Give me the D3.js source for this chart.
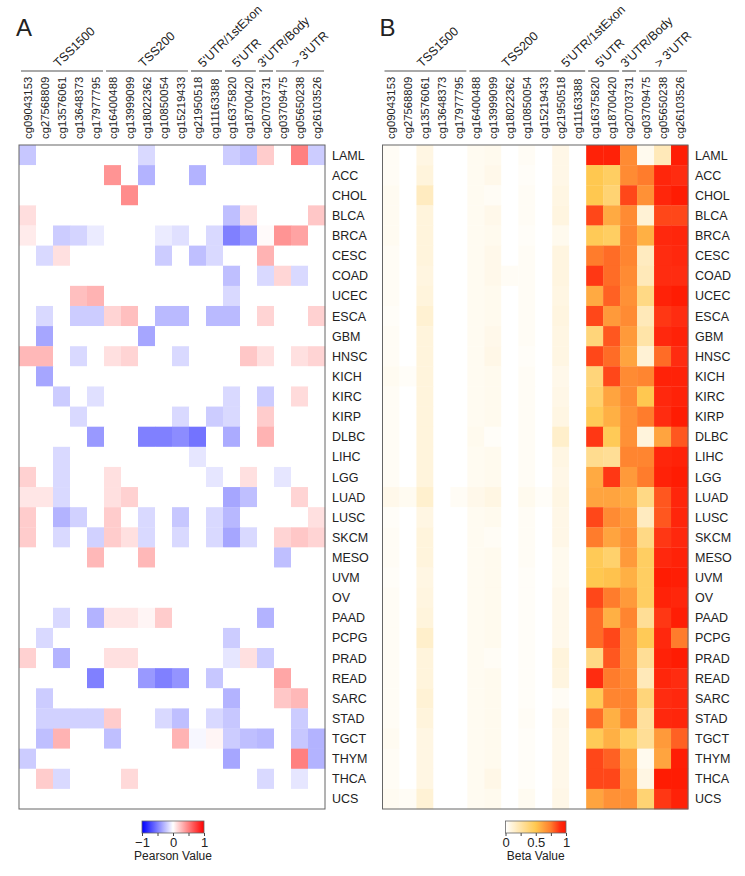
<!DOCTYPE html>
<html>
<head>
<meta charset="utf-8">
<script src="https://cdn.jsdelivr.net/npm/d3@7"></script>
<style>
  body { margin: 0; background: #fff; }
  text { font-family: "Liberation Sans", Arial, sans-serif; fill: #222; }
</style>
</head>
<body>
<script>
"use strict";

// sondes (colonnes)
var probes = ["cg09043153","cg27568809","cg13576061","cg13648373","cg17977795",
  "cg16400488","cg13999099","cg18022362","cg10850054","cg15219433",
  "cg21950518","cg11163388","cg16375820","cg18700420","cg20703731",
  "cg03709475","cg05650238","cg26103526"];

// regions (groupes de colonnes)
var groups = [
  {name: "TSS1500", from: 0, to: 4},
  {name: "TSS200", from: 5, to: 9},
  {name: "5'UTR/1stExon", from: 10, to: 11},
  {name: "5'UTR", from: 12, to: 13},
  {name: "3'UTR/Body", from: 14, to: 14},
  {name: "> 3'UTR", from: 15, to: 17}
];

// types de cancer (lignes)
var cancers = ["LAML","ACC","CHOL","BLCA","BRCA","CESC","COAD","UCEC","ESCA","GBM",
  "HNSC","KICH","KIRC","KIRP","DLBC","LIHC","LGG","LUAD","LUSC","SKCM","MESO",
  "UVM","OV","PAAD","PCPG","PRAD","READ","SARC","STAD","TGCT","THYM","THCA","UCS"];

// correlation de Pearson (panneau A)
var pearson = [
  [-0.22,0,0,0,0,0,0,-0.15,0,0,0,0,-0.2,-0.25,0.2,0,0.5,-0.2],
  [0,0,0,0,0,0.42,0,-0.3,0,0,-0.3,0,0,0,0,0,0,0],
  [0,0,0,0,0,0,0.45,0,0,0,0,0,0,0,0,0,0,0],
  [0.13,0,0,0,0,0,0,0,0,0,0,0,-0.25,0.12,0,0,0,0.22],
  [0.08,0,-0.2,-0.17,-0.08,0,0,0,-0.08,-0.12,0,-0.15,-0.5,-0.4,0.02,0.42,0.36,0],
  [0,-0.15,0.12,0,0,0,0,0,-0.2,0,-0.25,-0.15,0,0,0.3,0,0,0],
  [0,0,0,0,0,0,0,0,0,0,0,0,-0.25,0,-0.15,0.16,-0.15,0],
  [0,0,0,0.25,0.3,0,0,0,0,0,0,0,-0.15,0,0,0,0,0],
  [0,-0.15,0,-0.2,-0.2,0.17,0.25,0,-0.27,-0.27,0,-0.27,-0.27,0,0.17,0,0,0.18],
  [0,-0.35,0,0,0,0,0,-0.35,0,0,0,0,0,0,0,0,0,0],
  [0.28,0.28,0,-0.15,0,0.12,0.17,0,0,-0.15,0,0,0,0.22,0.12,0,0.12,0.17],
  [0,-0.35,0,0,0,0,0,0,0,0,0,0,0,0,0,0,0,0],
  [0,0,-0.2,0,-0.12,0,0,0,0,0,0,0,-0.15,0,-0.2,0,0.14,0],
  [0,0,0,-0.15,0,0,0,0,0,-0.15,0,-0.2,-0.15,0,0.2,0,0,0],
  [0,0,0,0,-0.4,0,0,-0.5,-0.5,-0.45,-0.55,0,-0.33,0,0.3,0,0,0],
  [0,0,-0.15,0,0,0,0,0,0,0,-0.1,0,0,0,0,0,0,0],
  [0.18,0,-0.15,0,0,0.12,0,0,0,0,0,-0.1,0,0.12,0,-0.1,0,0],
  [0.1,0.1,-0.15,0,0,0.12,0.18,0,0,0,0,0,-0.35,-0.25,0,0,0.17,0],
  [0.2,0,-0.3,-0.18,0,0.2,0,-0.15,0,-0.22,0,-0.15,-0.28,0,0,0,0,0.12],
  [0.2,0,-0.15,0,-0.18,0.2,0.12,-0.15,0,-0.15,0,-0.15,-0.35,-0.15,0,0.17,0.22,0.17],
  [0,0,0,0,0.28,0,0,0.28,0,0,0,0,0,0,0,-0.25,0,0],
  [0,0,0,0,0,0,0,0,0,0,0,0,0,0,0,0,0,0],
  [0,0,0,0,0,0,0,0,0,0,0,0,0,0,0,0,0,0],
  [0,0,-0.15,0,-0.3,0.1,0.1,0.04,0.2,0,0,0,0,0,-0.3,0,0,0],
  [0,-0.15,0,0,0,0,0,0,0,0,0,0,-0.2,0,0,0,0,0],
  [0.18,0,-0.3,0,0,0.12,0.12,0,0,0,0,0,-0.1,0.12,-0.2,0,0,0],
  [0,0,0,0,-0.5,0,0,-0.4,-0.5,-0.42,0,-0.22,0,0,0,0.35,0,0],
  [0,-0.2,0,0,0,0,0,0,0,0,0,0,-0.3,0,0,0.22,0.28,0],
  [0,-0.18,-0.18,-0.18,-0.18,0.2,0,0,-0.15,-0.25,0,-0.15,-0.22,0,0,0,-0.2,0],
  [0,-0.25,0.3,0,0,-0.25,0,0,0,0.3,-0.03,0.04,-0.2,-0.25,-0.28,0,-0.22,-0.3],
  [-0.2,0,0,0,0,0,0,0,0,0,0,0,-0.35,0,0,0,0.5,-0.3],
  [0,0.2,-0.15,0,0,0,0.15,0,0,0,0,0,0,0,-0.15,0,-0.1,0],
  [0,0,0,0,0,0,0,0,0,0,0,0,0,0,0,0,0,0]
];

// valeurs beta de methylation (panneau B)
var beta = [
  [0.03,0,0.08,0,0,0.04,0.05,0,0.03,0,0.07,0, 0.95,0.95,0.7,0.05,0.2,0.97],
  [0.03,0,0.1,0,0,0.04,0.06,0,0.02,0,0.07,0, 0.5,0.45,0.7,0.75,0.93,0.9],
  [0.04,0,0.18,0,0,0.04,0.03,0,0.03,0,0.08,0, 0.5,0.4,0.85,0.68,0.93,0.98],
  [0.04,0,0.1,0,0,0.04,0.06,0,0.03,0,0.09,0, 0.85,0.6,0.7,0.12,0.85,0.85],
  [0.04,0,0.1,0,0,0.04,0.05,0,0.02,0,0.05,0, 0.48,0.45,0.72,0.58,0.92,0.93],
  [0.03,0,0.1,0,0,0.04,0.06,0,0.03,0,0.09,0, 0.75,0.78,0.72,0.18,0.9,0.92],
  [0.03,0,0.09,0,0,0.04,0.06,0.03,0.03,0,0.09,0, 0.88,0.78,0.7,0.2,0.9,0.9],
  [0.03,0,0.1,0,0,0.04,0.05,0,0.03,0,0.08,0, 0.6,0.8,0.68,0.35,0.95,0.98],
  [0.02,0,0.13,0,0,0.04,0.05,0,0.03,0,0.09,0, 0.85,0.65,0.7,0.2,0.88,0.9],
  [0.03,0,0.1,0,0,0.04,0.06,0,0.03,0,0.08,0, 0.38,0.82,0.65,0.25,0.92,0.95],
  [0.03,0,0.1,0,0,0.04,0.07,0,0.02,0,0.08,0, 0.85,0.78,0.62,0.12,0.78,0.9],
  [0.04,0.02,0.1,0,0,0.04,0.05,0,0.03,0,0.06,0, 0.38,0.85,0.7,0.72,0.95,0.95],
  [0.03,0,0.1,0,0,0.04,0.05,0,0.03,0,0.07,0, 0.42,0.62,0.7,0.5,0.92,0.95],
  [0.03,0,0.1,0,0,0.04,0.05,0,0.03,0,0.08,0, 0.48,0.58,0.68,0.75,0.9,0.98],
  [0.03,0,0.1,0,0,0.05,0.02,0,0.03,0,0.15,0, 0.88,0.48,0.68,0.1,0.62,0.82],
  [0.03,0,0.1,0,0,0.04,0.05,0,0.03,0,0.08,0, 0.32,0.3,0.72,0.72,0.93,0.95],
  [0.03,0,0.1,0,0,0.04,0.05,0,0.03,0,0.07,0, 0.6,0.88,0.65,0.75,0.95,0.98],
  [0.06,0.04,0.14,0,0.03,0.06,0.08,0,0.05,0.02,0.08,0, 0.62,0.62,0.6,0.35,0.82,0.93],
  [0.02,0,0.08,0,0,0.04,0.05,0,0.03,0,0.07,0, 0.85,0.7,0.65,0.18,0.82,0.93],
  [0.03,0,0.1,0,0,0.04,0.03,0,0.03,0,0.07,0, 0.75,0.62,0.68,0.35,0.88,0.92],
  [0.03,0,0.1,0,0,0.04,0.05,0,0.03,0,0.05,0, 0.48,0.42,0.65,0.45,0.92,0.95],
  [0.02,0,0.08,0,0,0.04,0.05,0,0.02,0,0.05,0, 0.5,0.52,0.58,0.45,0.98,0.97],
  [0.03,0,0.09,0,0,0.04,0.05,0,0.02,0,0.06,0, 0.85,0.75,0.65,0.45,0.95,0.93],
  [0.03,0,0.1,0,0,0.04,0.05,0,0.02,0,0.06,0, 0.78,0.58,0.72,0.3,0.88,0.97],
  [0.03,0,0.15,0,0,0.04,0.05,0,0.02,0,0.06,0, 0.78,0.85,0.68,0.48,0.92,0.75],
  [0.03,0,0.1,0,0,0.04,0.03,0,0.02,0,0.1,0, 0.35,0.82,0.68,0.3,0.95,0.98],
  [0.03,0,0.1,0,0,0.04,0.05,0,0.02,0,0.09,0, 0.9,0.75,0.7,0.2,0.93,0.9],
  [0.03,0,0.12,0,0,0.04,0.05,0,0.02,0,0.03,0, 0.48,0.72,0.72,0.38,0.9,0.92],
  [0.03,0,0.1,0,0,0.04,0.05,0,0.03,0,0.07,0, 0.78,0.58,0.72,0.28,0.92,0.93],
  [0.04,0,0.08,0,0,0.04,0.05,0,0.02,0,0.06,0, 0.48,0.58,0.45,0.3,0.65,0.8],
  [0.03,0,0.08,0,0,0.04,0.05,0,0.02,0,0.06,0, 0.85,0.8,0.62,0.05,0.62,0.97],
  [0.03,0,0.08,0,0,0.04,0.07,0,0.02,0,0.06,0, 0.85,0.85,0.65,0.08,0.98,0.98],
  [0.04,0.03,0.12,0,0,0.04,0.05,0,0.04,0,0.07,0, 0.62,0.68,0.68,0.4,0.88,0.95]
];

var pearsonTicks = [-1, -0.5, 0, 0.5, 1];
var betaTicks = [0, 0.25, 0.5, 0.75, 1];

var larg = 745, haut = 876;
var top0 = 145, bas0 = 809; // haut et bas des heatmaps

var svg = d3.select("body").append("svg")
  .attr("width", larg)
  .attr("height", haut);

var defs = svg.append("defs");

var couleurA = d3.scaleLinear().domain([-1, 0, 1]).range(["#0000ff", "#ffffff", "#ff0000"]);
var couleurB = d3.scaleLinear().domain([0, 0.5, 0.75, 0.9, 1])
  .range(["#ffffff", "#ffc850", "#ff7c2c", "#ff2c10", "#ff1800"]);

function panneau(opts) {
  var g = svg.append("g");
  var x = d3.scaleBand().domain(d3.range(probes.length)).range([opts.x0, opts.x1]);
  var y = d3.scaleBand().domain(cancers).range([top0, bas0]);

  // lettre du panneau
  g.append("text")
    .attr("x", opts.x0 - 3)
    .attr("y", 36)
    .attr("font-size", "24px")
    .text(opts.lettre);

  // cellules
  var cells = [];
  opts.data.forEach(function(row, i) {
    row.forEach(function(v, j) { cells.push({r: cancers[i], c: j, v: v}); });
  });
  g.selectAll("rect.cell")
    .data(cells)
    .enter()
    .append("rect")
      .attr("class", "cell")
      .attr("x", function(d) { return x(d.c); })
      .attr("y", function(d) { return y(d.r); })
      .attr("width", x.bandwidth() + 0.3)
      .attr("height", y.bandwidth() + 0.3)
      .attr("fill", function(d) { return opts.couleur(d.v); });

  // cadre
  g.append("rect")
    .attr("x", opts.x0)
    .attr("y", top0)
    .attr("width", opts.x1 - opts.x0)
    .attr("height", bas0 - top0)
    .attr("fill", "none")
    .attr("stroke", "#666")
    .attr("stroke-width", 1);

  // noms des lignes
  g.selectAll("text.row")
    .data(cancers)
    .enter()
    .append("text")
      .attr("class", "row")
      .attr("x", opts.x1 + 7)
      .attr("y", function(d) { return y(d) + y.bandwidth() / 2; })
      .attr("dy", "0.36em")
      .attr("font-size", "12.5px")
      .text(function(d) { return d; });

  // noms des sondes
  g.selectAll("text.probe")
    .data(probes)
    .enter()
    .append("text")
      .attr("class", "probe")
      .attr("transform", function(d, i) {
        return "translate(" + (x(i) + x.bandwidth() / 2) + "," + (top0 - 6) + ") rotate(-90)";
      })
      .attr("dy", "0.36em")
      .attr("text-anchor", "start")
      .attr("font-size", "11.3px")
      .text(function(d) { return d; });

  // crochets des regions
  var yLigne = 71;
  g.selectAll("line.grp")
    .data(groups)
    .enter()
    .append("line")
      .attr("class", "grp")
      .attr("x1", function(d) { return x(d.from) + 2; })
      .attr("x2", function(d) { return x(d.to) + x.bandwidth() - 1; })
      .attr("y1", yLigne)
      .attr("y2", yLigne)
      .attr("stroke", "#555")
      .attr("stroke-width", 1.2);

  g.selectAll("text.grp")
    .data(groups)
    .enter()
    .append("text")
      .attr("class", "grp")
      .attr("transform", function(d) {
        var cx = (x(d.from) + x(d.to) + x.bandwidth()) / 2 - 3;
        return "translate(" + cx + "," + (yLigne - 3) + ") rotate(-44)";
      })
      .attr("font-size", "12.4px")
      .text(function(d) { return d.name; });

  // legende
  var lg = defs.append("linearGradient").attr("id", "grad" + opts.lettre);
  d3.range(0, 1.0001, 0.05).forEach(function(t) {
    var v = opts.dom[0] + t * (opts.dom[1] - opts.dom[0]);
    lg.append("stop").attr("offset", (t * 100) + "%").attr("stop-color", opts.couleur(v));
  });
  var lx = d3.scaleLinear().domain(opts.dom).range([opts.leg0, opts.leg1]);
  var legY = 821, legH = 12;
  g.append("rect")
    .attr("x", opts.leg0)
    .attr("y", legY)
    .attr("width", opts.leg1 - opts.leg0)
    .attr("height", legH)
    .attr("fill", "url(#grad" + opts.lettre + ")")
    .attr("stroke", "#666")
    .attr("stroke-width", 0.8);

  var axe = g.append("g")
    .attr("transform", "translate(0," + (legY + legH) + ")")
    .call(d3.axisBottom(lx)
      .tickValues(opts.ticks)
      .tickSize(3)
      .tickPadding(2)
      .tickFormat(function(d) { return opts.labels.indexOf(d) >= 0 ? d3.format("")(d) : ""; }));
  axe.select(".domain").remove();
  axe.selectAll(".tick line").attr("stroke", "#444");
  axe.selectAll(".tick text")
    .attr("font-size", "13px")
    .attr("font-family", "Liberation Sans, Arial, sans-serif")
    .attr("fill", "#222");

  g.append("text")
    .attr("x", (opts.leg0 + opts.leg1) / 2)
    .attr("y", 860)
    .attr("text-anchor", "middle")
    .attr("font-size", "12px")
    .text(opts.titre);
}

panneau({
  lettre: "A", x0: 19, x1: 325, data: pearson, couleur: couleurA,
  dom: [-1, 1], ticks: pearsonTicks, labels: [-1, 0, 1],
  leg0: 142, leg1: 204, titre: "Pearson Value"
});

panneau({
  lettre: "B", x0: 382.5, x1: 688, data: beta, couleur: couleurB,
  dom: [0, 1], ticks: betaTicks, labels: [0, 0.5, 1],
  leg0: 505.5, leg1: 566, titre: "Beta Value"
});
</script>
</body>
</html>
